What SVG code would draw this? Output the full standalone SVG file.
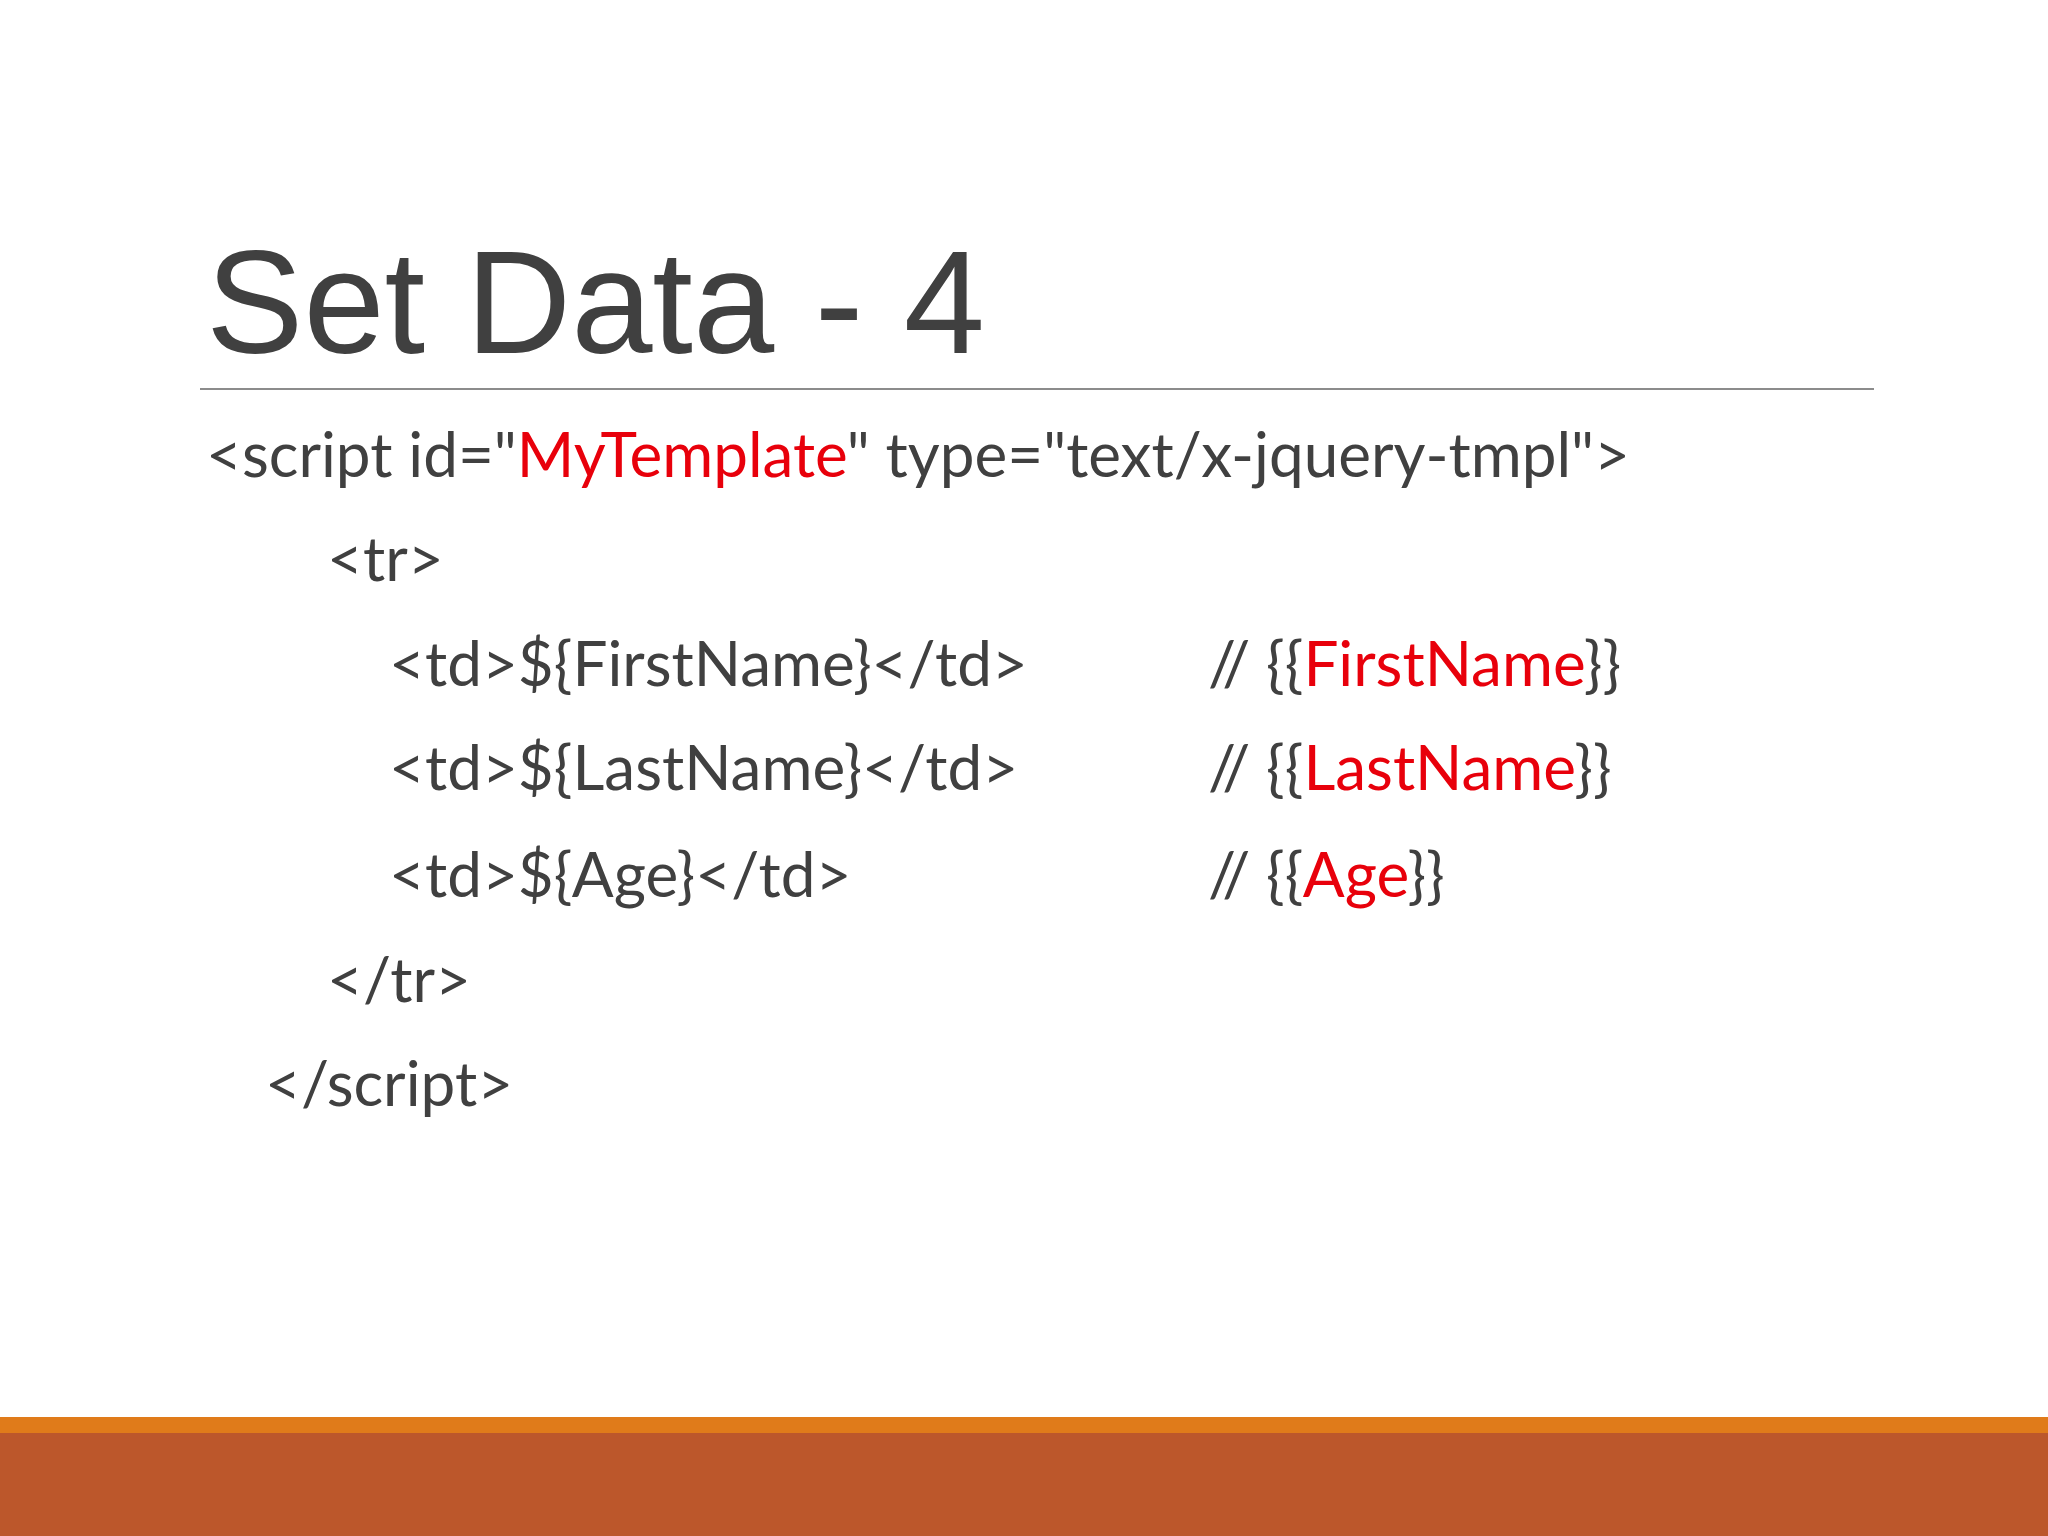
<svg xmlns="http://www.w3.org/2000/svg" width="2048" height="1536" viewBox="0 0 2048 1536">
<style>
.c{font-family:Lato,"Open Sans",sans-serif;font-size:62px;fill:#404040}
.r{fill:#E8000B}
</style>
<rect width="2048" height="1536" fill="#fff"/>
<g id="title"><text x="206" y="353" font-family="Liberation Sans,Arial,sans-serif" font-size="146" fill="#404040">Set Data - 4</text></g>
<line x1="200" y1="389" x2="1874" y2="389" stroke="#8c8c8c" stroke-width="2"/>
<g id="code">
<text class="c" x="206" y="477">&lt;script id="<tspan class="r">MyTemplate</tspan>" type="text/x-jquery-tmpl"&gt;</text>
<text class="c" x="327" y="581">&lt;tr&gt;</text>
<text class="c" x="389" y="686">&lt;td&gt;${FirstName}&lt;/td&gt;</text>
<text class="c" x="389" y="790">&lt;td&gt;${LastName}&lt;/td&gt;</text>
<text class="c" x="389" y="897">&lt;td&gt;${Age}&lt;/td&gt;</text>
<text class="c" x="327" y="1002">&lt;/tr&gt;</text>
<text class="c" x="265" y="1106">&lt;/script&gt;</text>
<text class="c" x="1208" y="686">// {{<tspan class="r">FirstName</tspan>}}</text>
<text class="c" x="1208" y="790">// {{<tspan class="r">LastName</tspan>}}</text>
<text class="c" x="1208" y="897">// {{<tspan class="r">Age</tspan>}}</text>
</g>
<rect x="0" y="1417" width="2048" height="16" fill="#E07B1A"/>
<rect x="0" y="1433" width="2048" height="103" fill="#BC572B"/>
</svg>
